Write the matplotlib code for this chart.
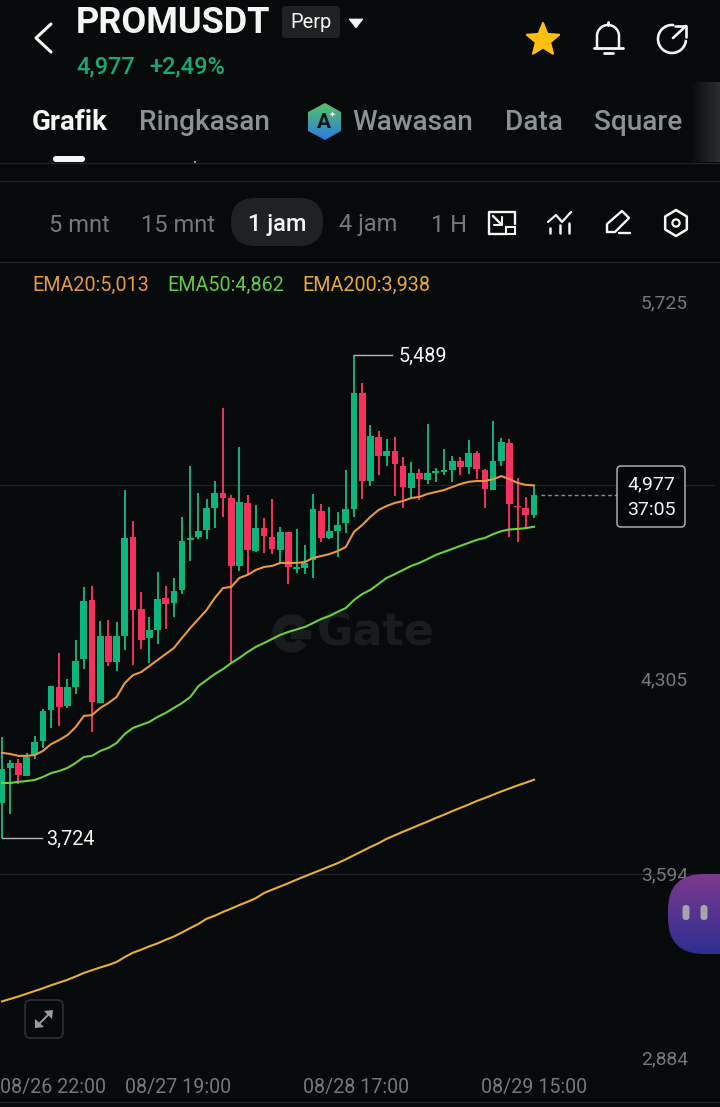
import numpy as np
import matplotlib
matplotlib.use("Agg")
import matplotlib.pyplot as plt
from matplotlib.patches import Arc, Circle, FancyBboxPatch, Polygon, Rectangle, Wedge
from matplotlib.colors import LinearSegmentedColormap

plt.rcParams['font.family'] = ['Roboto', 'DejaVu Sans']

# Candles, one hour each, oldest first
opens = [3853, 3981, 3999, 3952, 4028, 4079, 4193, 4277, 4207, 4277, 4379, 4594, 4218, 4463, 4368, 4463,
         4824, 4562, 4456, 4485, 4602, 4583, 4631, 4814, 4825, 4850, 4930, 4985, 4967, 4719, 4949, 4773,
         4857, 4824, 4777, 4843, 4708, 4711, 4741, 4920, 4821, 4846, 4876, 4927, 5351, 5029, 5190, 5120,
         5139, 5084, 5004, 5058, 5033, 5058, 5062, 5069, 5102, 5080, 5131, 5069, 4996, 5102, 5168, 4938,
         4930, 4905]
highs = [4094, 4010, 4014, 4036, 4098, 4196, 4280, 4401, 4306, 4448, 4642, 4646, 4518, 4521, 4514, 4996,
         4883, 4624, 4532, 4697, 4646, 4675, 4898, 5084, 4985, 4963, 5029, 5296, 4978, 5153, 4978, 4941,
         4894, 4963, 4861, 4843, 4854, 4795, 4982, 4945, 4934, 4916, 5069, 5489, 5387, 5234, 5212, 5183,
         5190, 5117, 5099, 5073, 5237, 5077, 5146, 5120, 5117, 5179, 5139, 5073, 5248, 5186, 5183, 5040,
         4971, 5011]
lows = [3724, 3813, 3922, 3952, 4014, 4054, 4127, 4134, 4200, 4251, 4342, 4112, 4218, 4353, 4335, 4412,
        4357, 4415, 4364, 4434, 4488, 4532, 4616, 4737, 4817, 4817, 4857, 4898, 4368, 4700, 4686, 4770,
        4766, 4762, 4730, 4653, 4693, 4689, 4675, 4806, 4817, 4751, 4839, 4898, 4963, 5011, 5051, 5084,
        4974, 4930, 4971, 4960, 5018, 5026, 5051, 5026, 5051, 5055, 5036, 4930, 4996, 5084, 4825, 4806,
        4857, 4894]
closes = [3977, 3999, 3955, 4021, 4076, 4189, 4280, 4203, 4277, 4372, 4591, 4222, 4463, 4368, 4463, 4821,
          4558, 4448, 4485, 4598, 4580, 4627, 4810, 4821, 4846, 4930, 4985, 4967, 4719, 4952, 4777, 4857,
          4828, 4781, 4843, 4715, 4715, 4730, 4927, 4821, 4846, 4868, 4927, 5351, 5029, 5193, 5120, 5139,
          5091, 5007, 5058, 5036, 5058, 5066, 5069, 5102, 5080, 5131, 5073, 5000, 5102, 5172, 4945, 4934,
          4905, 4977]

ema20 = [4036, 4032, 4025, 4025, 4028, 4043, 4068, 4083, 4101, 4130, 4171, 4174, 4200, 4218, 4240, 4291,
         4320, 4331, 4353, 4375, 4397, 4419, 4456, 4492, 4525, 4558, 4602, 4638, 4642, 4675, 4686, 4704,
         4715, 4719, 4730, 4730, 4730, 4733, 4748, 4755, 4762, 4773, 4788, 4843, 4868, 4898, 4923, 4938,
         4949, 4956, 4967, 4971, 4982, 4989, 4996, 5007, 5018, 5026, 5029, 5029, 5036, 5047, 5036, 5022,
         5015, 5013]
ema50 = [3926, 3926, 3930, 3933, 3937, 3948, 3962, 3970, 3981, 3999, 4021, 4025, 4043, 4054, 4072, 4105,
         4127, 4138, 4149, 4167, 4182, 4200, 4218, 4240, 4280, 4302, 4324, 4342, 4364, 4383, 4404, 4423,
         4437, 4452, 4467, 4478, 4487, 4496, 4510, 4525, 4536, 4551, 4565, 4594, 4616, 4631, 4653, 4675,
         4689, 4704, 4719, 4730, 4744, 4759, 4770, 4781, 4792, 4803, 4814, 4821, 4835, 4846, 4852, 4854,
         4857, 4862]
ema200 = [3128, 3137, 3146, 3156, 3166, 3176, 3187, 3197, 3207, 3219, 3232, 3242, 3252, 3261, 3272, 3290,
          3306, 3317, 3329, 3340, 3353, 3365, 3380, 3396, 3411, 3430, 3441, 3455, 3467, 3480, 3492, 3505,
          3524, 3536, 3548, 3560, 3573, 3585, 3597, 3609, 3621, 3633, 3647, 3662, 3677, 3692, 3706, 3722,
          3735, 3748, 3760, 3773, 3785, 3798, 3810, 3823, 3835, 3847, 3860, 3871, 3883, 3895, 3906, 3917,
          3927, 3938]

grid_prices = [5015, 3594]
price_labels = ["5,725", "4,305", "3,594", "2,884"]
date_labels = ["08/26 22:00", "08/27 19:00", "08/28 17:00", "08/29 15:00"]
last_price = 4977
high_price = 5489
low_price = 3724

BG = '#070A0B'
GREEN = '#0DB47C'
RED = '#F6305F'
GRAY = '#8C9195'
AXIS_GRAY = '#74787B'
LINE = '#1E2223'
WHITE = '#F4F5F5'

fig = plt.figure(figsize=(7.2, 11.07), dpi=100, facecolor=BG)

# Price axes fill the whole screenshot, the scale is what the app uses
ax = fig.add_axes([0, 0, 1, 1], facecolor=BG, zorder=1)
ax.set_xlim(-0.244, 87.72)
ax.set_ylim(2742.3, 6786.2)
ax.axis('off')

# Second axes in screen pixels for the app chrome around the chart
ui = fig.add_axes([0, 0, 1, 1], zorder=2)
ui.patch.set_alpha(0)
ui.set_xlim(0, 720)
ui.set_ylim(1107, 0)
ui.axis('off')

xs = np.arange(len(opens))

# Grid lines
for p in grid_prices:
    ax.plot([-1, 87], [p, p], color=LINE, lw=0.9, zorder=1)

# Watermark sits under the candles
ax.add_patch(Wedge((291.5, 633.5), 18.5, 40, 320, width=9, color='#191C1D', transform=ui.transData, zorder=1))
ax.add_patch(Rectangle((291, 630), 19, 8, color='#191C1D', transform=ui.transData, zorder=1))
ax.text(317, 633, "Gate", color='#191C1D', fontsize=32, fontweight='bold', va='center', ha='left',
        family=['DejaVu Sans'], transform=ui.transData, zorder=1)

# Candles
colors = [GREEN if c >= o else RED for o, c in zip(opens, closes)]
ax.vlines(xs, lows, highs, colors=colors, lw=1.4, zorder=3)
bottoms = np.minimum(opens, closes)
heights = np.abs(np.array(closes) - np.array(opens))
ax.bar(xs, heights, bottom=bottoms, width=0.82, color=colors, linewidth=0, zorder=4)

# EMA lines
ax.plot(xs, ema20, color='#E8983F', lw=1.5, zorder=5)
ax.plot(xs, ema50, color='#6CD03E', lw=1.5, zorder=5)
ax.plot(xs, ema200, color='#E8AE36', lw=1.5, zorder=5)

# High and low markers
hi_x = int(np.argmax(highs))
lo_x = int(np.argmin(lows))
ax.plot([hi_x, hi_x + 4.7], [high_price, high_price], color='#B5B7B8', lw=1.0, zorder=5)
ax.text(hi_x + 5.5, high_price - 4, f"{high_price:,}", color=WHITE, fontsize=14.2, va='center', ha='left', zorder=6)
ax.plot([lo_x, lo_x + 4.9], [low_price, low_price], color='#B5B7B8', lw=1.0, zorder=5)
ax.text(lo_x + 5.4, low_price - 4, f"{low_price:,}", color=WHITE, fontsize=14.2, va='center', ha='left', zorder=6)

# Last price dashes
ax.plot([65.9, 75.2], [last_price, last_price], color='#8A8D8F', lw=1.0, ls=(0, (2.6, 2.2)), zorder=5)

# Date labels along the bottom, the first one is pushed inside the chart
for lab, x in zip(date_labels, [53, 178, 356, 534]):
    ui.text(x, 1087, lab, color=AXIS_GRAY, fontsize=14.1, ha='center', va='center')

# Price scale labels, the top and bottom ones are pushed inside the chart
for lab, y in zip(price_labels, [303, 680, 875, 1059]):
    ui.text(688, y, lab, color=AXIS_GRAY, fontsize=13.9, ha='right', va='center')


def box(x0, y0, x1, y1, r, **kw):
    p = FancyBboxPatch((x0 + r, y0 + r), x1 - x0 - 2 * r, y1 - y0 - 2 * r,
                       boxstyle=f"round,pad={r},rounding_size={r}", **kw)
    ui.add_patch(p)
    return p


def stroke(xy, lw=1.8, color=WHITE):
    xy = np.array(xy)
    ui.plot(xy[:, 0], xy[:, 1], color=color, lw=lw, solid_capstyle='round', solid_joinstyle='round')


def gradient(extent, top, bottom, clip=None, horizontal=False):
    cmap = LinearSegmentedColormap.from_list('g', [top, bottom])
    data = np.linspace(0, 1, 64).reshape(1, -1) if horizontal else np.linspace(0, 1, 64).reshape(-1, 1)
    im = ui.imshow(data, cmap=cmap, extent=extent, aspect='auto', zorder=3)
    if clip is not None:
        im.set_clip_path(clip)
    ui.set_xlim(0, 720)
    ui.set_ylim(1107, 0)


box(617, 466, 685, 527, 4, fc='#050708', ec='#A9ABAC', lw=1.1, zorder=6)
ui.text(651, 484, f"{last_price:,}", color=WHITE, fontsize=14, ha='center', va='center', zorder=7)
ui.text(651, 510, "37:05", color=WHITE, fontsize=14, ha='center', va='center', zorder=7)

# Header
stroke([(51, 24), (36, 38), (51, 52)], lw=2.2)
ui.text(76, 23, "PROMUSDT", color=WHITE, fontsize=26, fontweight='bold', va='center', ha='left')
box(282, 6, 340, 38, 4, fc='#1F2223', ec='none')
ui.text(311, 23, "Perp", color=WHITE, fontsize=14.5, ha='center', va='center')
ui.add_patch(Polygon([(349, 19), (363, 19), (356, 28)], fc=WHITE, ec=WHITE, lw=0.5))
ui.text(76, 67, "4,977", color='#18A873', fontsize=17, fontweight='medium', va='center', ha='left')
ui.text(149, 67, "+2,49%", color='#18A873', fontsize=17, fontweight='medium', va='center', ha='left')

# Star, bell and share icons
ang = np.deg2rad(np.arange(0, 360, 36) - 90)
rad = np.array([17, 7.5] * 5)
ui.add_patch(Polygon(np.c_[543 + rad * np.cos(ang), 40 + rad * np.sin(ang)], fc='#FFBE0B', ec='#FFBE0B',
                     lw=1.5, joinstyle='round'))
bell_t = np.linspace(np.pi, 2 * np.pi, 30)
bell = [(597, 47)] + list(zip(608 + 11 * np.cos(bell_t), 36 + 11 * np.sin(bell_t))) + [(619, 47)]
stroke(bell, lw=1.8)
stroke([(594, 48), (623, 48)], lw=2)
stroke([(603.5, 53), (612.5, 53)], lw=2)
stroke([(608, 22), (608, 25)], lw=2)
arc_t = np.deg2rad(np.linspace(8, 275, 60))
stroke(np.c_[672 + 14 * np.cos(arc_t), 39 + 14 * np.sin(arc_t)], lw=1.9)
stroke([(673, 38), (686, 26)], lw=1.9)
stroke([(675, 26), (686, 26), (686, 37)], lw=1.9)

# Tabs
ui.text(32, 123, "Grafik", color=WHITE, fontsize=20, fontweight='bold', va='center', ha='left')
ui.text(139, 123, "Ringkasan", color=GRAY, fontsize=20.2, fontweight='medium', va='center', ha='left')
ui.text(352, 123, "Wawasan", color=GRAY, fontsize=20.2, fontweight='medium', va='center', ha='left')
ui.text(505, 123, "Data", color=GRAY, fontsize=20.2, fontweight='medium', va='center', ha='left')
ui.text(594, 123, "Square", color=GRAY, fontsize=20.2, fontweight='medium', va='center', ha='left')
box(53, 156, 85, 162, 3, fc=WHITE, ec='none')
ui.plot([0, 720], [163, 163], color=LINE, lw=1)
ui.plot([0, 720], [181, 181], color=LINE, lw=1)
ui.plot([0, 720], [262, 262], color=LINE, lw=1)
ui.plot([0, 720], [1102, 1102], color=LINE, lw=1)
ui.add_patch(Rectangle((194, 161), 2, 2, fc='#9A9A9A', ec='none'))
gradient((690, 720, 162, 82), BG, '#2C2D2E', horizontal=True)

# Wawasan hexagon logo
hexa = Polygon([(325, 103), (341, 112), (341, 131), (325, 140), (308, 131), (308, 112)], fc='none', ec='none',
               transform=ui.transData, joinstyle='round')
ui.add_patch(hexa)
gradient((308, 341, 140, 103), '#57C25E', '#2B7BE4', clip=hexa)
ui.text(323.5, 123, "A", color='#0C1A1C', fontsize=15, fontweight='bold', ha='center', va='center', zorder=4)
ui.text(332.5, 114, "✦", color=WHITE, fontsize=6, ha='center', va='center', zorder=4,
        family=['DejaVu Sans'])

# Interval row
box(231, 198, 323, 246, 24, fc='#1F2223', ec='none')
ui.text(49, 225, "5 mnt", color=AXIS_GRAY, fontsize=17, va='center', ha='left')
ui.text(141, 225, "15 mnt", color=AXIS_GRAY, fontsize=17, va='center', ha='left')
ui.text(277, 225, "1 jam", color=WHITE, fontsize=17, fontweight='medium', va='center', ha='center')
ui.text(339, 225, "4 jam", color=AXIS_GRAY, fontsize=17, va='center', ha='left')
ui.text(431, 225, "1 H", color=AXIS_GRAY, fontsize=17, va='center', ha='left')

# Chart tool icons
stroke([(506, 234), (489, 234), (489, 212), (515, 212), (515, 224)], lw=1.7)
ui.add_patch(Rectangle((506, 227), 9, 7, fc='none', ec=WHITE, lw=1.5))
stroke([(493, 216), (501, 224)], lw=1.7)
stroke([(494, 225), (502, 225), (502, 217)], lw=1.5)
stroke([(548, 222), (556, 215), (562, 222), (571, 212)], lw=1.6)
stroke([(550, 228), (550, 233)], lw=1.8)
stroke([(560, 225), (560, 233)], lw=1.8)
stroke([(569, 223), (569, 233)], lw=1.8)
stroke([(607, 232), (607, 224), (622, 211), (629, 218), (615, 232), (607, 232)], lw=1.7)
stroke([(619, 233), (630, 233)], lw=1.7)
hex_a = np.deg2rad(np.arange(0, 361, 60) - 90)
stroke(np.c_[676 + 12.5 * np.cos(hex_a), 223 + 13 * np.sin(hex_a)], lw=1.8)
ui.add_patch(Circle((676, 223), 3.6, fc='none', ec=WHITE, lw=1.6))

# EMA legend
ui.text(32, 285.5, "EMA20:5,013", color='#E8983F', fontsize=14.2, va='center', ha='left')
ui.text(167, 285.5, "EMA50:4,862", color='#62C94A', fontsize=14.2, va='center', ha='left')
ui.text(302, 285.5, "EMA200:3,938", color='#E8AA36', fontsize=14.2, va='center', ha='left')

# Expand button
box(25, 1000, 63, 1038, 6, fc='none', ec='#2B2E30', lw=1.3)
stroke([(38, 1025), (50, 1013)], lw=1.4, color='#9A9D9F')
ui.add_patch(Polygon([(44, 1011), (53, 1010), (52, 1019)], fc='#9A9D9F', ec='none'))
ui.add_patch(Polygon([(35, 1019), (35, 1028), (44, 1027)], fc='#9A9D9F', ec='none'))

# Floating purple helper button at the right edge
blob = box(668, 874, 770, 954, 36, fc='none', ec='none')
gradient((668, 720, 954, 874), '#7B3A8E', '#2F2F92', clip=blob)
box(682.5, 905, 689.5, 920, 3.5, fc='#A5A5A8', ec='none', zorder=5)
box(700.5, 905, 707.5, 920, 3.5, fc='#A5A5A8', ec='none', zorder=5)

fig.savefig('out.png', dpi=100, facecolor=BG)
